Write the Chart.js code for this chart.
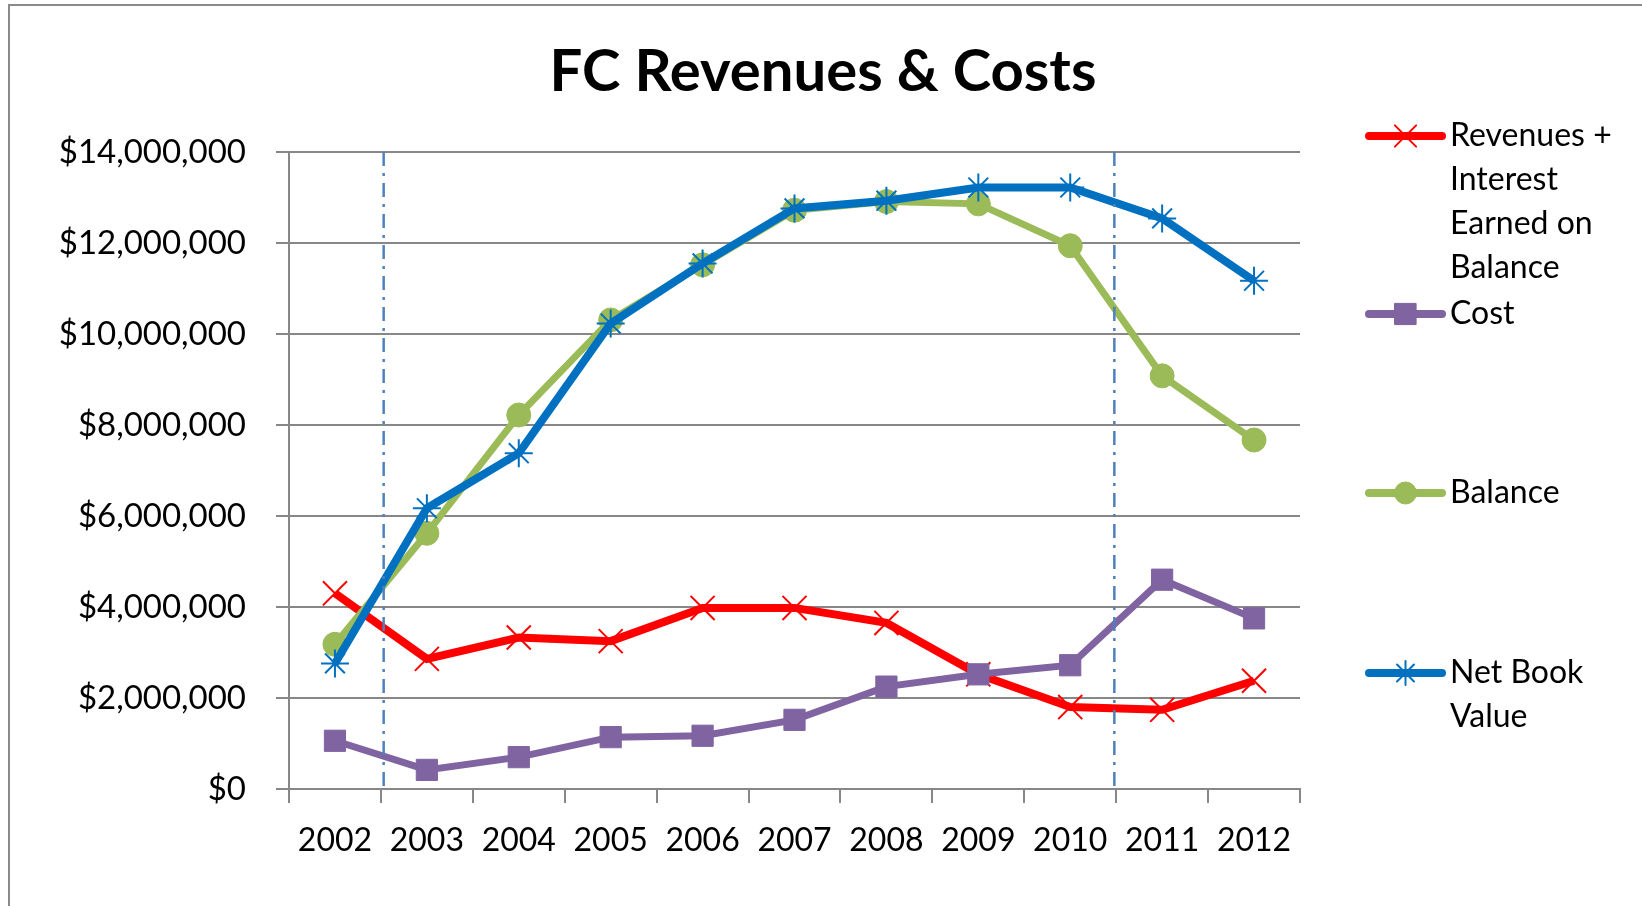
<!DOCTYPE html>
<html>
<head>
<meta charset="utf-8">
<title>FC Revenues & Costs</title>
<script src="https://cdn.jsdelivr.net/npm/chart.js@4.4.1/dist/chart.umd.min.js"></script>
<style>
  html, body { margin: 0; padding: 0; background: #fff; }
  #wrap { position: relative; width: 1642px; height: 906px; overflow: hidden; }
  #frame {
    position: absolute; left: 8px; top: 4px; width: 1700px; height: 1000px;
    border-left: 2px solid #8a8a8a; border-top: 2px solid #8a8a8a;
  }
  #chart { position: absolute; left: 0; top: 0; }
</style>
</head>
<body>
<div id="wrap">
  <div id="frame"></div>
  <canvas id="chart" width="1642" height="906"></canvas>
</div>
<script>
/* ---- data ---- */
const years = ["2002", "2003", "2004", "2005", "2006", "2007", "2008", "2009", "2010", "2011", "2012"];
const revenues = [4300000, 2860000, 3330000, 3250000, 3980000, 3980000, 3650000, 2520000, 1800000, 1740000, 2380000];
const cost = [1060000, 420000, 700000, 1140000, 1170000, 1520000, 2250000, 2520000, 2720000, 4600000, 3750000];
const balance = [3180000, 5620000, 8220000, 10310000, 11520000, 12720000, 12910000, 12860000, 11940000, 9080000, 7670000];
const netBook = [2760000, 6170000, 7380000, 10230000, 11550000, 12760000, 12930000, 13220000, 13220000, 12540000, 11170000];
const seriesNames = [
    ["Revenues +", "Interest", "Earned on", "Balance"],
    ["Cost"],
    ["Balance"],
    ["Net Book", "Value"]
];
const yTicks = [0, 2000000, 4000000, 6000000, 8000000, 10000000, 12000000, 14000000];
// dash-dot markers between 2002/2003 and 2010/2011 (category index units)
const markerLines = [0.53, 8.48];
const chartTitle = "FC Revenues & Costs";

const FONT = "Lato, 'Open Sans', sans-serif";
const GRID = "#878787";

/* Dash-dot vertical lines */
const markerLinePlugin = {
    id: "markerLines",
    afterDatasetsDraw(chart) {
        const { ctx, chartArea, scales } = chart;
        ctx.save();
        ctx.strokeStyle = "#4f81bd";
        ctx.lineWidth = 2.5;
        ctx.setLineDash([14, 7, 3, 7]);
        markerLines.forEach(v => {
            const x = scales.x.getPixelForValue(v);
            ctx.beginPath();
            ctx.moveTo(x, chartArea.top);
            ctx.lineTo(x, chartArea.bottom + 4);
            ctx.stroke();
        });
        ctx.restore();
    }
};

/* Title centred on the whole canvas (built-in one centres on the padded box) */
const titlePlugin = {
    id: "centerTitle",
    afterDraw(chart) {
        const ctx = chart.ctx;
        ctx.save();
        ctx.fillStyle = "#000";
        ctx.font = "bold 58px " + FONT;
        ctx.textAlign = "center";
        ctx.textBaseline = "middle";
        ctx.fillText(chartTitle, 823, 72);
        ctx.restore();
    }
};

/* Legend on the right, multi-line labels */
const legendRows = [136, 314, 493, 673];
const sideLegendPlugin = {
    id: "sideLegend",
    afterDraw(chart) {
        const ctx = chart.ctx;
        const x1 = 1369, x2 = 1442, tx = 1450, lineGap = 44;
        chart.data.datasets.forEach((ds, i) => {
            const y = legendRows[i];
            ctx.save();
            ctx.beginPath();
            ctx.lineCap = "round";
            ctx.strokeStyle = ds.borderColor;
            ctx.lineWidth = 8;
            ctx.moveTo(x1, y);
            ctx.lineTo(x2, y);
            ctx.stroke();
            ctx.fillStyle = ds.borderColor;
            ctx.strokeStyle = ds.borderColor;
            ctx.lineWidth = ds.pointBorderWidth;
            Chart.helpers.drawPoint(ctx, {
                pointStyle: ds.pointStyle,
                radius: ds.legendRadius,
                borderWidth: ds.pointBorderWidth,
                rotation: 0
            }, (x1 + x2) / 2, y);
            ctx.fillStyle = "#000";
            ctx.font = "32px " + FONT;
            ctx.textAlign = "left";
            ctx.textBaseline = "middle";
            seriesNames[i].forEach((t, k) => ctx.fillText(t, tx, y + k * lineGap));
            ctx.restore();
        });
    }
};

function series(label, data, color, width, style, radius, legendRadius, order) {
    return {
        label: label,
        data: data,
        borderColor: color,
        backgroundColor: color,
        borderWidth: width,
        pointStyle: style,
        pointRadius: radius,
        pointBorderColor: color,
        pointBackgroundColor: color,
        pointBorderWidth: style === "crossRot" || style === "star" ? 2 : 1,
        legendRadius: legendRadius,
        tension: 0,
        order: order
    };
}

new Chart(document.getElementById("chart"), {
    type: "line",
    data: {
        labels: years,
        datasets: [
            series(seriesNames[0].join(" "), revenues, "#ff0000", 8, "crossRot", 17, 15, 4),
            series("Cost", cost, "#8064a2", 7, "rect", 15, 15, 3),
            series("Balance", balance, "#9bbb59", 7, "circle", 12, 11, 2),
            series("Net Book Value", netBook, "#0070c0", 8, "star", 14, 12, 1)
        ]
    },
    options: {
        responsive: false,
        animation: false,
        devicePixelRatio: 1,
        layout: { padding: { left: 0, right: 342, top: 152, bottom: 0 } },
        plugins: {
            legend: { display: false },
            tooltip: { enabled: false },
            title: { display: false }
        },
        scales: {
            x: {
                offset: true,
                grid: {
                    offset: true,
                    drawOnChartArea: false,
                    drawTicks: true,
                    tickLength: 14,
                    color: GRID,
                    lineWidth: 2
                },
                border: { display: true, color: GRID, width: 2 },
                ticks: {
                    color: "#000",
                    padding: 18,
                    maxRotation: 0,
                    font: { family: FONT, size: 32 }
                },
                afterFit(scale) { scale.height = 117; }
            },
            y: {
                min: 0,
                max: 14000000,
                afterBuildTicks(scale) { scale.ticks = yTicks.map(v => ({ value: v })); },
                grid: {
                    color: GRID,
                    lineWidth: 2,
                    drawTicks: true,
                    tickLength: 13
                },
                border: { display: true, color: GRID, width: 2 },
                ticks: {
                    color: "#000",
                    padding: 30,
                    font: { family: FONT, size: 33 },
                    callback: v => "$" + Number(v).toLocaleString("en-US")
                },
                afterFit(scale) { scale.width = 289; }
            }
        }
    },
    plugins: [markerLinePlugin, titlePlugin, sideLegendPlugin]
});
</script>
</body>
</html>
